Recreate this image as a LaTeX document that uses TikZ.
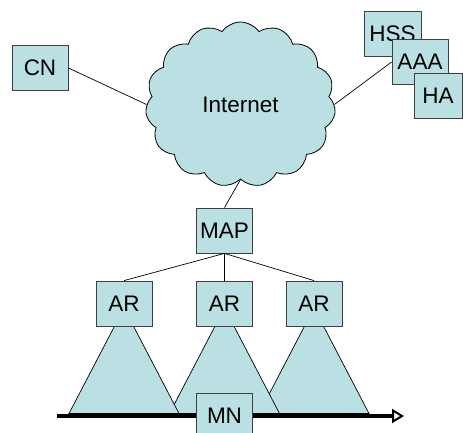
\documentclass[tikz,border=0pt]{standalone}
\usepackage{fontspec}
\setmainfont{Liberation Sans}
\usetikzlibrary{arrows.meta,backgrounds,calc,positioning,shapes.symbols}
\definecolor{boxblue}{RGB}{187,224,227}

\begin{document}
\begin{tikzpicture}[x=1pt,y=-1pt,% pixel grid, y pointing down
			every node/.style={
				align=center,  		% use this so that the "\\" for line break works
				font=\fontsize{22.5}{25}\selectfont
			},
			box/.style={
				rectangle,draw=black!75,line width=0.8pt,fill=boxblue,
				minimum width=56pt,minimum height=45pt,inner sep=0pt
			},
			cell/.style={fill=boxblue,draw=black,line width=0.7pt},
			every edge/.style={draw,line width=0.7pt}
		]
		\useasboundingbox (0,0) rectangle (463,433);
		\node[cloud,cloud puffs=15,cloud puff arc=110,aspect=1.15,draw=black,line width=0.8pt,fill=boxblue,
			minimum width=190pt,minimum height=165pt,inner sep=0pt](Net) at (240.5,104.5) {Internet};
		\node[box](CN) at (40,68) {CN};
		\node[box,minimum width=57pt](HSS) at (392.5,34) {HSS};
		\node[box](AAA) at (420,62) {AAA};
		\node[box,minimum width=48pt](HA) at (438,95.5) {HA};
		\node[box](MAP) at (224.5,230.5) {MAP};
		\node[box](AR1) at (124,303.5) {AR};
		\node[box](AR2) at (224.5,303.5) {AR};
		\node[box](AR3) at (314,303.5) {AR};
		% coverage of the access routers, drawn right to left
		\coordinate (B) at (0,413.5);
		\begin{scope}[on background layer]
			\foreach \r in {AR3,AR2,AR1}
				\filldraw[cell] ($(\r.center)+(0,4.5)$) -- ($(\r.center |- B)+(-55,0)$) -- ($(\r.center |- B)+(55,0)$) -- cycle;
		\end{scope}
		% movement of the mobile node
		\coordinate (T0) at (57,416);
		\coordinate (T1) at (404,416);
		\draw[line width=3.5pt,-{Triangle[open,length=12pt,width=14pt,line width=2pt]}] (T0) -- (T1);
		\node[box](MN) at (224.5,415.5) {MN};
		\path
		(CN.east)edge []	node [] {} (Net.west)
		(Net.east)edge []	node [] {} (AAA.west)
		(Net.south)edge []	node [] {} (MAP.north)
		(MAP.south)edge []	node [] {} (AR1.north)
		(MAP.south)edge []	node [] {} (AR2.north)
		(MAP.south)edge []	node [] {} (AR3.north)
		;
	\end{tikzpicture}
\end{document}
